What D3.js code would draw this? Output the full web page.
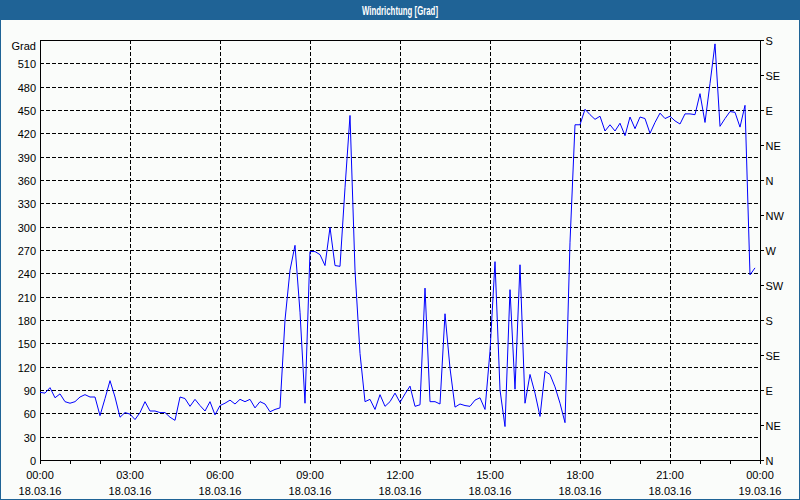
<!DOCTYPE html>
<html>
<head>
<meta charset="utf-8">
<script src="https://cdn.jsdelivr.net/npm/d3@7"></script>
<style>
  html, body { margin: 0; padding: 0; background: #fafcfa; }
  svg { display: block; }
  text { font-family: "Liberation Sans", Arial, sans-serif; font-size: 11px; fill: #000; }
</style>
</head>
<body>
<svg id="chart" width="800" height="500"></svg>
<script>
// ---- data ----
const title = "Windrichtung [Grad]";
const yUnit = "Grad";
const startTime = "2016-03-18T00:00:00";
const endTime = "2016-03-19T00:00:00";
const stepMinutes = 10;
const values = [
  87, 86, 93, 80, 85, 75, 73, 75, 81, 84, 81, 81,
  57, 79, 102, 81, 55, 61, 59, 52, 61, 75, 63, 63,
  61, 61, 55, 51, 81, 79, 69, 78, 70, 63, 75, 58,
  70, 73, 77, 72, 78, 75, 78, 67, 75, 72, 62, 65,
  67, 180, 244, 276, 190, 73, 268, 268, 264, 250, 299, 250,
  249, 350, 443, 244, 137, 75, 78, 65, 84, 69, 75, 86,
  74, 85, 95, 69, 71, 221, 75, 75, 72, 188, 118, 68,
  72, 70, 69, 77, 80, 65, 140, 255, 90, 43, 219, 91,
  251, 73, 110, 86, 56, 114, 110, 94, 73, 48, 280, 431,
  431, 451, 444, 438, 442, 423, 431, 423, 433, 417, 441, 426,
  441, 439, 420, 434, 446, 439, 442, 436, 432, 445, 445, 444,
  471, 434, 484, 535, 429, 439, 448, 447, 428, 456, 238, 247
];
const yTicks = [0, 30, 60, 90, 120, 150, 180, 210, 240, 270, 300, 330, 360, 390, 420, 450, 480, 510];
const yMax = 540;
const rightTickValues = [0, 45, 90, 135, 180, 225, 270, 315, 360, 405, 450, 495, 540];
const rightTickLabels = ["N", "NE", "E", "SE", "S", "SW", "W", "NW", "N", "NE", "E", "SE", "S"];
const xLabelHours = 3;

// ---- layout ----
const W = 800, H = 500;
const m = { left: 40, right: 40, top: 40, bottom: 40 };
const frameColor = "#1f6396";

const svg = d3.select("#chart");
const parse = d3.timeParse("%Y-%m-%dT%H:%M:%S");
const t0 = parse(startTime), t1 = parse(endTime);
const data = values.map((v, i) => ({ t: d3.timeMinute.offset(t0, i * stepMinutes), v }));

const x = d3.scaleTime().domain([t0, t1]).range([m.left, W - m.right]);
const y = d3.scaleLinear().domain([0, yMax]).range([H - m.bottom, m.top]);

// background + frame
svg.append("rect").attr("x", 0).attr("y", 0).attr("width", W).attr("height", H).attr("fill", "#fafcfa");
svg.append("rect").attr("x", 0).attr("y", 0).attr("width", W).attr("height", 20).attr("fill", frameColor);
svg.append("rect").attr("x", 0.5).attr("y", 0.5).attr("width", W - 1).attr("height", H - 1)
  .attr("fill", "none").attr("stroke", frameColor).attr("stroke-width", 1);
svg.append("text").attr("x", W / 2).attr("y", 10).attr("dy", "0.36em")
  .attr("text-anchor", "middle").style("fill", "#fff").style("font-weight", "bold")
  .style("font-size", "12.5px")
  .attr("textLength", 76).attr("lengthAdjust", "spacingAndGlyphs")
  .text(title);

// grid
const grid = svg.append("g").attr("shape-rendering", "crispEdges")
  .attr("stroke", "#000").attr("stroke-dasharray", "4,2");
grid.selectAll("line.h").data(yTicks.filter(d => d > 0)).join("line")
  .attr("x1", m.left).attr("x2", W - m.right)
  .attr("y1", d => Math.round(y(d)) + 0.5).attr("y2", d => Math.round(y(d)) + 0.5);
const gridTimes = d3.timeHour.every(xLabelHours).range(t0, t1).filter(d => +d !== +t0);
grid.selectAll("line.v").data(gridTimes).join("line")
  .attr("y1", m.top).attr("y2", H - m.bottom)
  .attr("x1", d => Math.round(x(d)) + 0.5).attr("x2", d => Math.round(x(d)) + 0.5);

// plot border
svg.append("rect").attr("x", m.left + 0.5).attr("y", m.top + 0.5)
  .attr("width", W - m.left - m.right).attr("height", H - m.top - m.bottom)
  .attr("fill", "none").attr("stroke", "#000").attr("shape-rendering", "crispEdges");

// left axis
const yAxis = d3.axisLeft(y).tickValues(yTicks).tickSize(0).tickPadding(4);
const gy = svg.append("g").attr("transform", `translate(${m.left},0)`).call(yAxis);
gy.select(".domain").remove();
gy.selectAll("text").style("font-family", "'Liberation Sans', Arial, sans-serif").style("font-size", "11px").attr("dy", "0.42em");
svg.append("text").attr("x", m.left - 4).attr("y", 46).attr("dy", "0.35em")
  .attr("text-anchor", "end").text(yUnit);

// right axis
const yRight = d3.axisRight(y).tickValues(rightTickValues).tickSize(3).tickPadding(2)
  .tickFormat((d, i) => rightTickLabels[i]);
const gr = svg.append("g").attr("transform", `translate(${W - m.right + 0.5},0)`).call(yRight);
gr.select(".domain").remove();
gr.selectAll("line").attr("shape-rendering", "crispEdges");
gr.selectAll("text").style("font-family", "'Liberation Sans', Arial, sans-serif").style("font-size", "11px").attr("dy", "0.45em");

// bottom axis
const xAxis = d3.axisBottom(x).ticks(d3.timeHour.every(1)).tickSize(3).tickFormat("");
const gx = svg.append("g").attr("transform", `translate(0,${H - m.bottom + 0.5})`).call(xAxis);
gx.select(".domain").remove();
gx.selectAll("line").attr("shape-rendering", "crispEdges");
const labelTimes = d3.timeHour.every(xLabelHours).range(t0, d3.timeMinute.offset(t1, 1));
const fTime = d3.timeFormat("%H:%M"), fDate = d3.timeFormat("%d.%m.%y");
const lab = svg.append("g").selectAll("g").data(labelTimes).join("g")
  .attr("transform", d => `translate(${x(d)},0)`);
lab.append("text").attr("y", 475).attr("dy", "0.35em").attr("text-anchor", "middle").text(d => fTime(d));
lab.append("text").attr("y", 491).attr("dy", "0.35em").attr("text-anchor", "middle").text(d => fDate(d));

// series
svg.append("path").datum(data)
  .attr("fill", "none").attr("stroke", "#0000ff").attr("stroke-width", 1)
  .attr("d", d3.line().x(d => x(d.t)).y(d => y(d.v)));
</script>
</body>
</html>
